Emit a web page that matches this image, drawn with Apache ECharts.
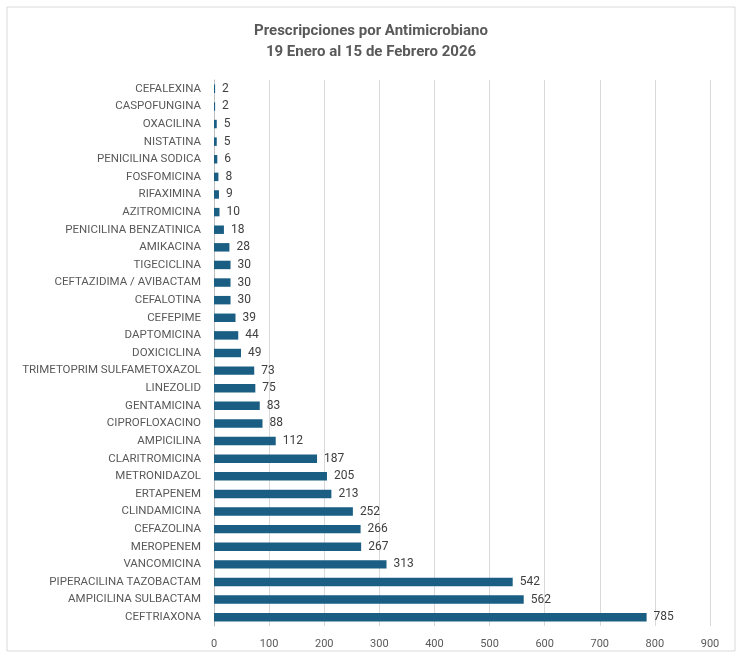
<!DOCTYPE html>
<html><head><meta charset="utf-8">
<script src="https://cdn.jsdelivr.net/npm/echarts@6/dist/echarts.min.js"></script>
<style>html,body{margin:0;padding:0;background:#fff}#c{width:742px;height:658px}</style>
</head><body><div id="c"></div>
<script>
const categories = ["CEFALEXINA","CASPOFUNGINA","OXACILINA","NISTATINA","PENICILINA SODICA","FOSFOMICINA","RIFAXIMINA","AZITROMICINA","PENICILINA BENZATINICA","AMIKACINA","TIGECICLINA","CEFTAZIDIMA / AVIBACTAM","CEFALOTINA","CEFEPIME","DAPTOMICINA","DOXICICLINA","TRIMETOPRIM SULFAMETOXAZOL","LINEZOLID","GENTAMICINA","CIPROFLOXACINO","AMPICILINA","CLARITROMICINA","METRONIDAZOL","ERTAPENEM","CLINDAMICINA","CEFAZOLINA","MEROPENEM","VANCOMICINA","PIPERACILINA TAZOBACTAM","AMPICILINA SULBACTAM","CEFTRIAXONA"];
const values = [2,2,5,5,6,8,9,10,18,28,30,30,30,39,44,49,73,75,83,88,112,187,205,213,252,266,267,313,542,562,785];
const xTicks = [0,100,200,300,400,500,600,700,800,900];

const chart = echarts.init(document.getElementById('c'));
chart.setOption({
  animation:false,
  backgroundColor:'#fff',
  graphic:[{type:'rect',shape:{x:7,y:7,width:728,height:644},style:{fill:'none',stroke:'#d9d9d9',lineWidth:1}}],
  title:{text:'Prescripciones por Antimicrobiano\n19 Enero al 15 de Febrero 2026',left:'center',top:16,
    textStyle:{fontFamily:'Roboto',fontWeight:'bold',fontSize:15,color:'#595959',lineHeight:21}},
  grid:{left:214,right:32,top:80,bottom:32,containLabel:false},
  xAxis:{type:'value',min:xTicks[0],max:xTicks[xTicks.length-1],interval:100,
    axisLine:{show:false},axisTick:{show:false},
    axisLabel:{color:'#595959',fontSize:11,fontFamily:'Roboto',margin:13},
    splitLine:{lineStyle:{color:'#d9d9d9',width:1}}},
  yAxis:{type:'category',data:categories,inverse:true,
    axisLine:{show:true,lineStyle:{color:'#bfbfbf'}},axisTick:{show:false},
    axisLabel:{color:'#595959',fontSize:11.5,fontFamily:'Roboto',margin:13}},
  series:[{type:'bar',data:values,barWidth:'48%',
    itemStyle:{color:'#1a5e83'},
    label:{show:true,position:'right',distance:7,color:'#404040',fontSize:12,fontFamily:'Roboto'}}]
});
</script></body></html>
